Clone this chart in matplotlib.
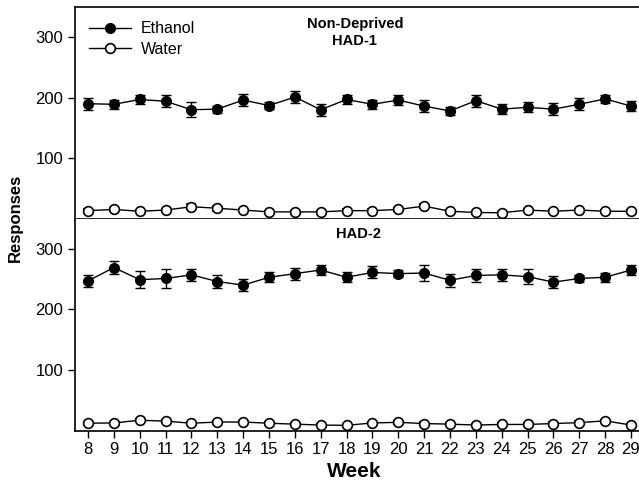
import matplotlib
matplotlib.use("Agg")
import matplotlib.pyplot as plt
from matplotlib.lines import Line2D

plt.rcParams['font.family'] = ['Liberation Sans', 'DejaVu Sans']

weeks = list(range(8, 30))
week_labels = [str(w) for w in weeks]

had1_ethanol = [190, 189, 197, 194, 180, 181, 196, 187, 201, 180, 197, 189, 196, 186, 178, 195, 181, 184, 181, 189, 198, 186]
had1_ethanol_err = [10, 7, 7, 10, 12, 6, 10, 5, 10, 10, 7, 7, 8, 10, 7, 10, 8, 8, 10, 10, 7, 8]
had1_water = [13, 15, 12, 14, 19.5, 17, 14, 11, 11, 11, 13, 13, 15, 20.5, 12, 10, 9.5, 14, 12, 14, 12, 12]
had1_water_err = [2, 2, 2, 2, 4, 4, 2, 2, 2, 2, 2, 2, 2, 3, 2, 2, 2, 2, 2, 2, 2, 2]

had2_ethanol = [247, 269, 249, 251, 257, 246, 240, 253, 259, 265, 253, 261, 259, 260, 248, 256, 257, 254, 245, 251, 253, 265]
had2_ethanol_err = [10, 11, 14, 16, 10, 10, 10, 8, 10, 8, 8, 10, 6, 13, 11, 10, 10, 12, 10, 6, 7, 8]
had2_water = [12, 12.5, 17, 15.5, 12, 14, 14, 12, 10.5, 9, 8.5, 12.5, 13.5, 11.5, 10.5, 9, 10, 10, 11.5, 13, 16, 9]
had2_water_err = [2] * 22

yticks = [100, 200, 300]

fig = plt.figure(figsize=(6.39, 4.87), dpi=100)
ax1 = fig.add_axes([0.1174, 0.5513, 0.8826, 0.4343])
ax2 = fig.add_axes([0.1174, 0.1160, 0.8826, 0.4353])

MS = 7


def draw(ax, eth, eth_err, wat, wat_err):
    ax.errorbar(weeks, eth, yerr=eth_err, fmt='o-', color='black', mfc='black', mec='black',
                ms=MS, lw=1, elinewidth=1, capsize=3.8, capthick=1, zorder=3)
    ax.errorbar(weeks, wat, yerr=wat_err, fmt='o-', color='black', mfc='white', mec='black',
                ms=MS, mew=1.2, lw=1, elinewidth=1, capsize=3.8, capthick=1, zorder=3)
    ax.set_xlim(7.497, 29.31)
    ax.set_ylim(0, 350)
    ax.set_yticks(yticks)
    ax.set_yticklabels([str(v) for v in yticks], fontsize=12)
    ax.spines['right'].set_visible(False)
    for s in ['left', 'top', 'bottom']:
        ax.spines[s].set_linewidth(1.2)
    ax.tick_params(axis='y', direction='out', length=5, width=1)


draw(ax1, had1_ethanol, had1_ethanol_err, had1_water, had1_water_err)
draw(ax2, had2_ethanol, had2_ethanol_err, had2_water, had2_water_err)

ax1.set_xticks([])
ax2.spines['top'].set_visible(False)
ax2.set_xticks(weeks)
ax2.set_xticklabels(week_labels, fontsize=12)
ax2.tick_params(axis='x', direction='out', length=5, width=1)

handles = [Line2D([], [], color='black', marker='o', mfc='black', mec='black', ms=MS, lw=1),
           Line2D([], [], color='black', marker='o', mfc='white', mec='black', ms=MS, mew=1.2, lw=1)]
ax1.legend(handles, ['Ethanol', 'Water'], loc='upper left', frameon=False, fontsize=11.5,
           handlelength=2.6, borderaxespad=0.5, borderpad=0.4, handletextpad=0.6, labelspacing=0.35)

ax1.text(0.496, 0.955, 'Non-Deprived\nHAD-1', transform=ax1.transAxes, ha='center', va='top',
         fontsize=10.5, fontweight='bold', linespacing=1.3)
ax2.text(0.503, 0.96, 'HAD-2', transform=ax2.transAxes, ha='center', va='top',
         fontsize=10.5, fontweight='bold')

fig.text(0.024, 0.553, 'Responses', rotation=90, ha='center', va='center', fontsize=12, fontweight='bold')
fig.text(0.555, 0.031, 'Week', ha='center', va='center', fontsize=15, fontweight='bold')

fig.savefig('out.png', dpi=100)
